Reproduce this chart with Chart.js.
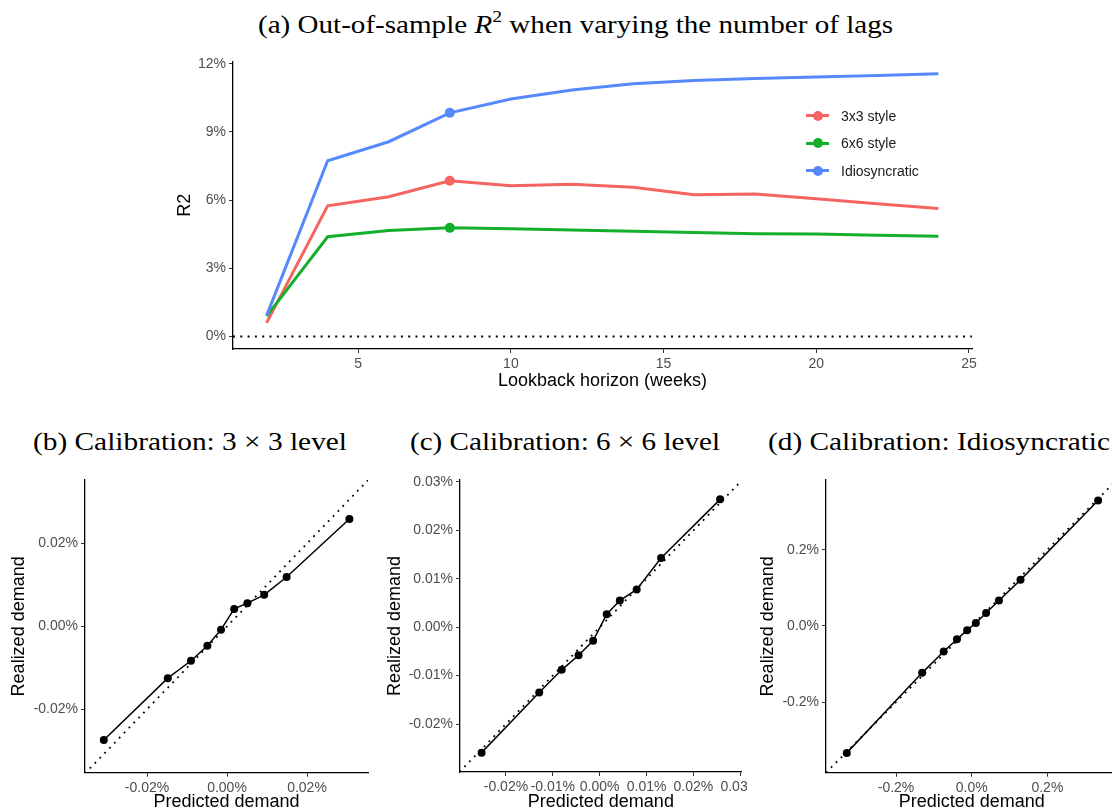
<!DOCTYPE html>
<html>
<head>
<meta charset="utf-8">
<script src="https://cdn.jsdelivr.net/npm/chart.js@4.4.1/dist/chart.umd.min.js"></script>
<style>
html,body{margin:0;padding:0;background:#fff;width:1112px;height:812px;overflow:hidden;position:relative}
.wrap{position:absolute;overflow:hidden;background:#fff}
canvas{position:absolute;display:block;top:0}
.ttl{position:absolute;font-family:'Liberation Serif','Times New Roman',serif;font-size:25px;line-height:25px;white-space:nowrap;transform-origin:0 50%;color:#000}
.ttl sup{font-size:0.68em;line-height:0;vertical-align:0.62em}
.legrow{position:absolute;left:806px;height:16px;width:120px;font-family:'Liberation Sans',Arial,sans-serif;font-size:14px;color:#1a1a1a}
.legrow .ln{position:absolute;left:0;top:6.5px;width:23px;height:3px}
.legrow .dt{position:absolute;left:6.5px;top:3px;width:10px;height:10px;border-radius:50%}
.legrow .lt{position:absolute;left:35px;top:0;line-height:16px}
</style>
</head>
<body>
<div class="ttl" id="tA" data-left="258" data-width="635" data-base="33">(a) Out-of-sample <i>R</i><sup>2</sup> when varying the number of lags</div>
<div class="ttl" id="tB" data-left="33" data-width="314" data-base="450">(b) Calibration: 3 × 3 level</div>
<div class="ttl" id="tC" data-left="410" data-width="310" data-base="450">(c) Calibration: 6 × 6 level</div>
<div class="ttl" id="tD" data-left="768" data-width="342" data-base="450">(d) Calibration: Idiosyncratic</div>

<div class="wrap" style="left:0;top:0;width:1112px;height:400px;background:transparent"><canvas id="cTop" width="1112" height="400" style="left:0"></canvas></div>
<div class="wrap" style="left:0;top:460px;width:380px;height:352px"><canvas id="cB" width="400" height="360" style="left:0"></canvas></div>
<div class="wrap" style="left:380px;top:460px;width:367px;height:352px"><canvas id="cC" width="420" height="360" style="left:0"></canvas></div>
<div class="wrap" style="left:747px;top:460px;width:365px;height:352px"><canvas id="cD" width="420" height="360" style="left:2px"></canvas></div>
<div id="legend"></div>

<script>
// ---------- Data: panel (a) ----------
const lags = [2, 4, 6, 8, 10, 12, 14, 16, 18, 20, 22, 24];
const r2Style3 = [0.60, 5.75, 6.15, 6.85, 6.63, 6.70, 6.57, 6.24, 6.27, 6.06, 5.84, 5.63];
const r2Style6 = [0.90, 4.39, 4.66, 4.78, 4.74, 4.69, 4.63, 4.58, 4.52, 4.51, 4.45, 4.41];
const r2Idio   = [0.92, 7.73, 8.57, 9.84, 10.45, 10.85, 11.12, 11.26, 11.35, 11.42, 11.48, 11.56];
const seriesNames = ['3x3 style', '6x6 style', 'Idiosyncratic'];
const highlightLag = 8;
const lagTicks = [5, 10, 15, 20, 25];
const r2Ticks = [0, 3, 6, 9, 12];

// ---------- Data: calibration panels (values in %) ----------
const pred3 = [-0.0308, -0.0148, -0.0090, -0.0049, -0.0015, 0.0018, 0.0051, 0.0093, 0.0149, 0.0306];
const real3 = [-0.0274, -0.0125, -0.0083, -0.0047, -0.0008, 0.0042, 0.0056, 0.0076, 0.0119, 0.0259];
const pred6 = [-0.0252, -0.0129, -0.0081, -0.0045, -0.0014, 0.0015, 0.0043, 0.0079, 0.0131, 0.0257];
const real6 = [-0.0259, -0.0135, -0.0088, -0.0058, -0.0028, 0.0027, 0.0055, 0.0078, 0.0143, 0.0264];
const predI = [-0.330, -0.131, -0.074, -0.039, -0.012, 0.011, 0.038, 0.072, 0.129, 0.334];
const realI = [-0.333, -0.123, -0.067, -0.035, -0.011, 0.008, 0.034, 0.067, 0.121, 0.329];
const calibTicks3 = [-0.02, 0, 0.02];
const calibTicks6 = [-0.02, -0.01, 0, 0.01, 0.02, 0.03];
const calibTicksI = [-0.2, 0, 0.2];

// ---------- Styling ----------
const SANS = "'Liberation Sans', Arial, sans-serif";
const seriesColors = ['#F46460', '#14B02C', '#5589FC'];
const TICK_COL = '#4D4D4D';

// fit titles
document.querySelectorAll('.ttl').forEach(el => {
  const left = +el.dataset.left, target = +el.dataset.width, base = +el.dataset.base;
  el.style.left = left + 'px';
  el.style.top = (base - 20.9) + 'px';
  const w = el.getBoundingClientRect().width;
  el.style.transform = 'scaleX(' + (target / w) + ')';
});

// legend
const legend = document.getElementById('legend');
const legY = [115.5, 143.2, 170.8];
seriesNames.forEach((n, i) => {
  const r = document.createElement('div');
  r.className = 'legrow';
  r.style.top = (legY[i] - 8) + 'px';
  r.innerHTML = '<span class="ln" style="background:' + seriesColors[i] + '"></span><span class="dt" style="background:' + seriesColors[i] + '"></span><span class="lt">' + n + '</span>';
  legend.appendChild(r);
});

function axisCommon(ticks, fmt, title, fit) {
  return {
    type: 'linear',
    afterBuildTicks: s => { s.ticks = ticks.map(v => ({ value: v })); },
    ticks: { color: TICK_COL, font: { family: SANS, size: 14 }, padding: 3, maxRotation: 0, minRotation: 0, autoSkip: false, callback: fmt },
    grid: { display: true, drawOnChartArea: false, drawTicks: true, tickLength: 4, color: '#333', lineWidth: 1 },
    border: { display: true, color: '#000', width: 1.3 },
    title: { display: true, text: title, color: '#000', font: { family: SANS, size: 18 }, padding: 0 },
    afterFit: fit
  };
}

// ---------- Panel (a) ----------
const xMinA = 0.9, xMaxA = 25.1;
const seriesVals = [r2Style3, r2Style6, r2Idio];
const dsA = seriesVals.map((vals, i) => ({
  label: seriesNames[i],
  data: lags.map((l, j) => ({ x: l, y: vals[j] })),
  borderColor: seriesColors[i],
  backgroundColor: seriesColors[i],
  borderWidth: 3,
  tension: 0,
  order: 3 - i,
  pointRadius: ctx => lags[ctx.dataIndex] === highlightLag ? 5 : 0,
  pointBorderWidth: 0,
  pointHoverRadius: 0
}));
dsA.push({
  label: 'zero',
  data: [{ x: xMinA, y: 0 }, { x: xMaxA, y: 0 }],
  borderColor: '#000', borderWidth: 2, borderDash: [2, 5.3], pointRadius: 0, order: 10
});

new Chart(document.getElementById('cTop'), {
  type: 'line',
  data: { datasets: dsA },
  options: {
    responsive: false, animation: false, devicePixelRatio: 1,
    layout: { padding: { left: 174.7, right: 1112 - 972, top: 61.5, bottom: 7.8 } },
    plugins: { legend: { display: false }, tooltip: { enabled: false } },
    scales: {
      x: Object.assign(axisCommon(lagTicks, v => String(v), 'Lookback horizon (weeks)', s => { s.height = 43.2; }), { min: xMinA, max: xMaxA }),
      y: Object.assign(axisCommon(r2Ticks, v => v + '%', 'R2', s => { s.width = 233 - 174.7; }), { min: -0.55, max: 12.1 })
    }
  }
});

// ---------- Calibration panels ----------
function calib(id, pred, real, xr, yr, ticks, dec, g) {
  const lo = Math.min(xr[0], yr[0]), hi = Math.max(xr[1], yr[1]);
  const fmt = v => v.toFixed(dec) + '%';
  new Chart(document.getElementById(id), {
    type: 'line',
    data: {
      datasets: [
        {
          label: 'calibration',
          data: pred.map((p, j) => ({ x: p, y: real[j] })),
          borderColor: '#000', backgroundColor: '#000', borderWidth: 1.5, tension: 0,
          pointRadius: 4, pointBorderWidth: 0, pointHoverRadius: 0, order: 1
        },
        {
          label: '45 degree',
          data: [{ x: lo, y: lo }, { x: hi, y: hi }],
          borderColor: '#000', borderWidth: 1.8, borderDash: [1.8, 5.2], pointRadius: 0, order: 2
        }
      ]
    },
    options: {
      responsive: false, animation: false, devicePixelRatio: 1,
      layout: { padding: { left: g.padL, right: g.padR, top: 20, bottom: 6.8 } },
      plugins: { legend: { display: false }, tooltip: { enabled: false } },
      scales: {
        x: Object.assign(axisCommon(ticks, fmt, 'Predicted demand', s => { s.height = g.xH; }), { min: xr[0], max: xr[1] }),
        y: Object.assign(axisCommon(ticks, fmt, 'Realized demand', s => { s.width = g.yW; }), { min: yr[0], max: yr[1] })
      }
    }
  });
}

calib('cB', pred3, real3, [-0.0355, 0.03525], [-0.0353, 0.0353], calibTicks3, 2,
  { padL: 8.6, yW: 76.4, padR: 32, xH: 40.5 });
calib('cC', pred6, real6, [-0.0298, 0.0303], [-0.0299, 0.0304], calibTicks6, 2,
  { padL: 4.3, yW: 75.7, padR: 58.3, xH: 41.2 });
calib('cD', predI, realI, [-0.385, 0.385], [-0.385, 0.383], calibTicksI, 1,
  { padL: 8.3, yW: 68.7, padR: 51.6, xH: 40.5 });
</script>
</body>
</html>
